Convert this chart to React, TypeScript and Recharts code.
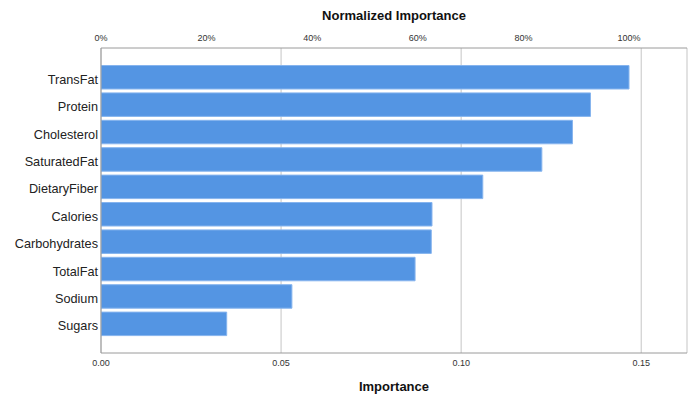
import React from "react";
import { BarChart, Bar, XAxis, YAxis, CartesianGrid, Label } from "recharts";

const categories = [
  "TransFat",
  "Protein",
  "Cholesterol",
  "SaturatedFat",
  "DietaryFiber",
  "Calories",
  "Carbohydrates",
  "TotalFat",
  "Sodium",
  "Sugars",
];
const importance = [0.1466, 0.1359, 0.1309, 0.1224, 0.106, 0.0919, 0.0917, 0.0872, 0.053, 0.0349];
const importanceTicks = [0, 0.05, 0.1, 0.15];
const normalizedTicks = [0, 20, 40, 60, 80, 100];
const importanceMax = 0.1627;

const data = categories.map((name, i) => ({ name, importance: importance[i] }));
const maxImp = Math.max(...importance);
const normalizedMax = (importanceMax / maxImp) * 100;

const FONT = "'Liberation Sans', Arial, sans-serif";

const YTick = (props: any) => {
  const { x, y, payload } = props;
  return (
    <text x={x} y={y} dy={6.5} textAnchor="end" fontSize={12.7} fill="#222" fontFamily={FONT}>
      {payload.value}
    </text>
  );
};

export default function App() {
  return (
    <div style={{ position: "absolute", left: 0, top: 0, background: "#fff" }}>
      <BarChart
        width={694}
        height={394}
        data={data}
        layout="vertical"
        margin={{ top: 0, right: 7, bottom: 0, left: 0 }}
        style={{ fontFamily: FONT }}
      >
        <CartesianGrid xAxisId="imp" horizontal={false} stroke="#cfcfcf" strokeWidth={1.2} />
        <XAxis
          xAxisId="imp"
          type="number"
          orientation="bottom"
          domain={[0, importanceMax]}
          ticks={importanceTicks}
          tickFormatter={(v: number) => v.toFixed(2)}
          height={41}
          tickSize={0}
          tickMargin={7}
          tick={{ fontSize: 9, fill: "#333", fontFamily: FONT }}
          axisLine={{ stroke: "#9a9a9a" }}
          allowDataOverflow
        >
          <Label
            value="Importance"
            position="insideBottom"
            offset={3}
            style={{ fontSize: 13, fontWeight: "bold", fill: "#111", fontFamily: FONT }}
          />
        </XAxis>
        <XAxis
          xAxisId="norm"
          type="number"
          orientation="top"
          domain={[0, normalizedMax]}
          ticks={normalizedTicks}
          tickFormatter={(v: number) => `${v}%`}
          height={48}
          tickSize={0}
          tickMargin={7}
          tick={{ fontSize: 9, fill: "#333", fontFamily: FONT }}
          axisLine={{ stroke: "#9a9a9a" }}
          allowDataOverflow
        >
          <Label
            value="Normalized Importance"
            position="insideTop"
            offset={11}
            style={{ fontSize: 13, fontWeight: "bold", fill: "#111", fontFamily: FONT }}
          />
        </XAxis>
        <YAxis
          type="category"
          dataKey="name"
          width={101}
          tickSize={0}
          tickMargin={3}
          tick={<YTick />}
          axisLine={{ stroke: "#9a9a9a" }}
          padding={{ top: 15.5, bottom: 15.5 }}
        />
        <Bar
          xAxisId="imp"
          dataKey="importance"
          fill="#5495E3"
          stroke="#86B4EE"
          strokeWidth={1}
          barSize={23.5}
          isAnimationActive={false}
        />
      </BarChart>
    </div>
  );
}
